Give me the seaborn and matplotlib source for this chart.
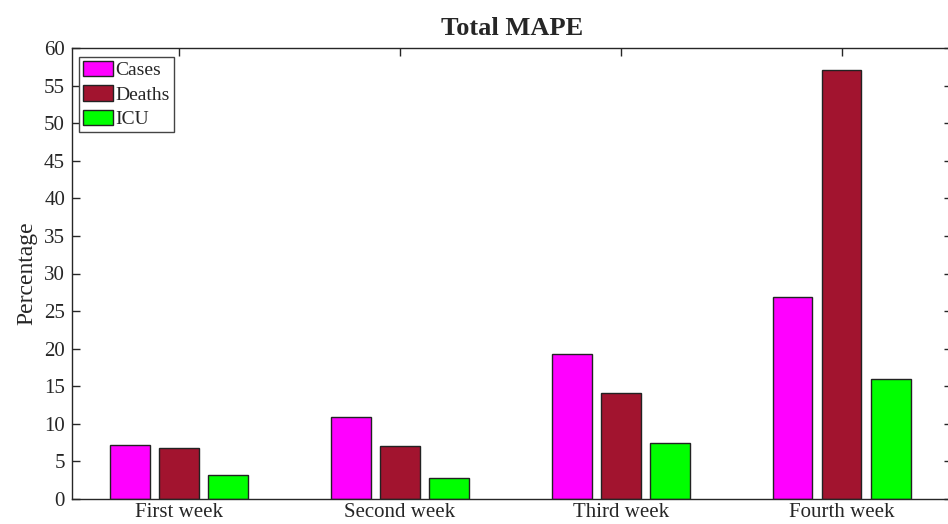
import pandas as pd
import numpy as np
import matplotlib
matplotlib.use('Agg')
import matplotlib.pyplot as plt
import seaborn as sns

# values
weeks = ['First week', 'Second week', 'Third week', 'Fourth week']
cases = [7.2, 10.9, 19.3, 26.9]
deaths = [6.8, 7.1, 14.1, 57.1]
icu = [3.2, 2.8, 7.4, 16.0]
series = ['Cases', 'Deaths', 'ICU']
colours = ['#FF00FF', '#A2142F', '#00FF00']

data = pd.DataFrame({
    'Week': weeks * 3,
    'Series': ['Cases'] * 4 + ['Deaths'] * 4 + ['ICU'] * 4,
    'Value': cases + deaths + icu,
})

sns.set_style('white')
plt.rcParams['font.family'] = ['Liberation Serif', 'DejaVu Serif']

fig = plt.figure(figsize=(9.48, 5.24), dpi=100)
ax = fig.add_axes([72 / 948, 25 / 524, 880 / 948, 451 / 524])

sns.barplot(data=data, x='Week', y='Value', hue='Series', hue_order=series,
            palette=colours, width=0.667, gap=0.19, edgecolor='#222222',
            linewidth=1.0, saturation=1, ax=ax)

ax.set_xlim(-0.485, 3.5)
ax.set_ylim(0, 60)
ax.set_yticks(np.arange(0, 61, 5))
ax.set_xlabel('')
ax.set_ylabel('Percentage', fontsize=17, labelpad=5)
ax.set_title('Total MAPE', fontsize=19, weight='bold', pad=9)

for s in ['left', 'top', 'bottom']:
    ax.spines[s].set_color('#262626')
    ax.spines[s].set_linewidth(1.0)
ax.spines['right'].set_visible(False)
ax.tick_params(axis='both', direction='in', length=6, width=1, color='#262626',
               labelsize=15, top=True, right=True, left=True, bottom=True,
               labelcolor='#262626')
ax.tick_params(axis='x', pad=3)
ax.tick_params(axis='y', pad=5)

ax.legend(loc='upper left', bbox_to_anchor=(0.008, 0.98), fontsize=14,
          fancybox=False, framealpha=1, edgecolor='#444444', handlelength=1.55,
          handleheight=0.85, handletextpad=0.12, borderpad=0.2, labelspacing=0.3,
          borderaxespad=0.0)

plt.savefig('out.png', dpi=100)
